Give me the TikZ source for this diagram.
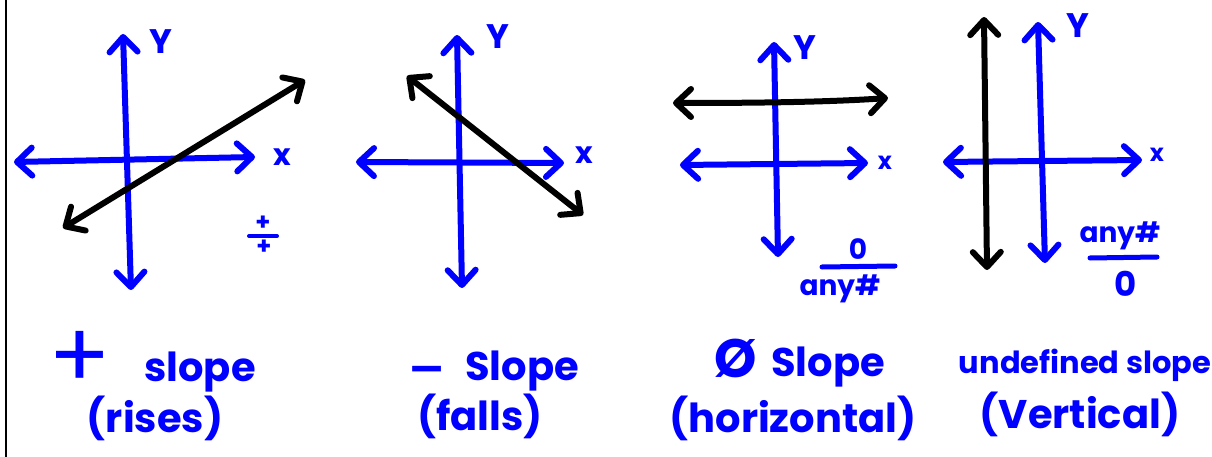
\documentclass[tikz,border=0pt]{standalone}
\usepackage{fontspec}
\setmainfont{Poppins}
\usetikzlibrary{arrows.meta}
\definecolor{pen}{RGB}{0,0,255}
\begin{document}
\begin{tikzpicture}[x=1pt,y=-1pt,
  barb/.tip={Straight Barb[length=15pt,width=28pt,round]},
  ax/.style={draw=pen,line width=6pt,line cap=round,line join=round,barb-barb},
  ln/.style={ax,draw=black},
  bar/.style={draw=pen,line width=5pt,line cap=round},
  hw/.style={text=pen,inner sep=0pt,font=\bfseries\fontsize{40}{40}\selectfont},
  hwb/.style={hw,anchor=base},
  axl/.style={text=pen,inner sep=0pt,font=\bfseries\fontsize{34}{34}\selectfont},
  xl/.style={text=pen,inner sep=0pt,font=\bfseries\fontsize{30}{30}\selectfont},
  frac/.style={text=pen,inner sep=0pt,font=\bfseries\fontsize{28}{28}\selectfont},
  small/.style={text=pen,inner sep=0pt,font=\bfseries\fontsize{24}{24}\selectfont}]
\useasboundingbox[fill=white] (0,0) rectangle (1212,457);
\draw[line width=2pt] (6,0) -- (6,457);

% ---------- panel 1: positive slope
\coordinate (a1t) at (123,34);  \coordinate (a1b) at (131,290);
\coordinate (a1l) at (14,162);  \coordinate (a1r) at (255,157);
\coordinate (l1a) at (63,228);  \coordinate (l1b) at (305,80);
\draw[ax] (a1t) -- (a1b);
\draw[ax] (a1l) -- (a1r);
\draw[ln] (l1a) -- (l1b);
\node[axl] (y1) at (161,42) {Y};
\node[xl] (x1) at (282,157) {x};
\node[small] (n1) at (263,223) {+};
\node[small] (d1) at (264,247) {+};
\draw[bar,line width=4pt] (249,236) -- (277,236);

% ---------- panel 2: negative slope
\coordinate (a2t) at (457,35);  \coordinate (a2b) at (462,288);
\coordinate (a2l) at (356,162); \coordinate (a2r) at (564,163);
\coordinate (l2a) at (407,76);  \coordinate (l2b) at (583,215);
\draw[ax] (a2t) -- (a2b);
\draw[ax] (a2l) -- (a2r);
\draw[ln] (l2a) -- (l2b);
\node[axl] (y2) at (498,37) {Y};
\node[xl] (x2) at (584,155) {x};

% ---------- panel 3: zero slope
\coordinate (a3t) at (774,42);  \coordinate (a3b) at (778,257);
\coordinate (a3l) at (680,165); \coordinate (a3r) at (868,163);
\coordinate (l3a) at (673,103); \coordinate (l3b) at (888,98);
\draw[ax] (a3t) -- (a3b);
\draw[ax] (a3l) -- (a3r);
\draw[ln] (l3a) .. controls (760,103) and (830,102) .. (l3b);
\node[axl] (y3) at (805,48) {Y};
\node[xl,font=\bfseries\fontsize{24}{24}\selectfont] (x3) at (885,163) {x};
\node[frac] (n3) at (858,249) {0};
\draw[bar] (822,267) -- (895,266);
\node[frac] (d3) at (840,289) {any\#};

% ---------- panel 4: undefined slope
\coordinate (a4t) at (1038,22); \coordinate (a4b) at (1045,263);
\coordinate (a4l) at (943,162); \coordinate (a4r) at (1142,160);
\coordinate (l4a) at (984,17);  \coordinate (l4b) at (987,270);
\draw[ax] (a4t) -- (a4b);
\draw[ax] (a4l) -- (a4r);
\draw[ln] (l4a) -- (l4b);
\node[axl] (y4) at (1078,26) {Y};
\node[xl,font=\bfseries\fontsize{24}{24}\selectfont] (x4) at (1157,155) {x};
\node[frac] (n4) at (1120,236) {any\#};
\draw[bar] (1090,258) -- (1157,257);
\node[frac,font=\bfseries\fontsize{34}{34}\selectfont] (d4) at (1126,284) {0};

% ---------- captions
\node[hw,font=\mdseries\fontsize{92}{92}\selectfont] (plus) at (80,360) {+};
\node[hwb] (s1) at (200,381) {slope};
\node[hwb] (r1) at (155,432) {(rises)};

\node[hw,font=\mdseries\fontsize{72}{72}\selectfont] (minus) at (428,395) {\smash{-}};
\node[hwb] (s2) at (522,380) {Slope};
\node[hwb] (r2) at (480,430) {(falls)};

\node[hw,font=\bfseries\fontsize{54}{54}\selectfont] (zero) at (736,358) {Ø};
\node[hwb] (s3) at (828,376) {Slope};
\node[hwb] (r3) at (793,432) {(horizontal)};

\node[hwb,font=\bfseries\fontsize{30.5}{30.5}\selectfont] (s4) at (1085,373) {undefined slope};
\node[hwb] (r4) at (1080,428) {(Vertical)};
\end{tikzpicture}
\end{document}
